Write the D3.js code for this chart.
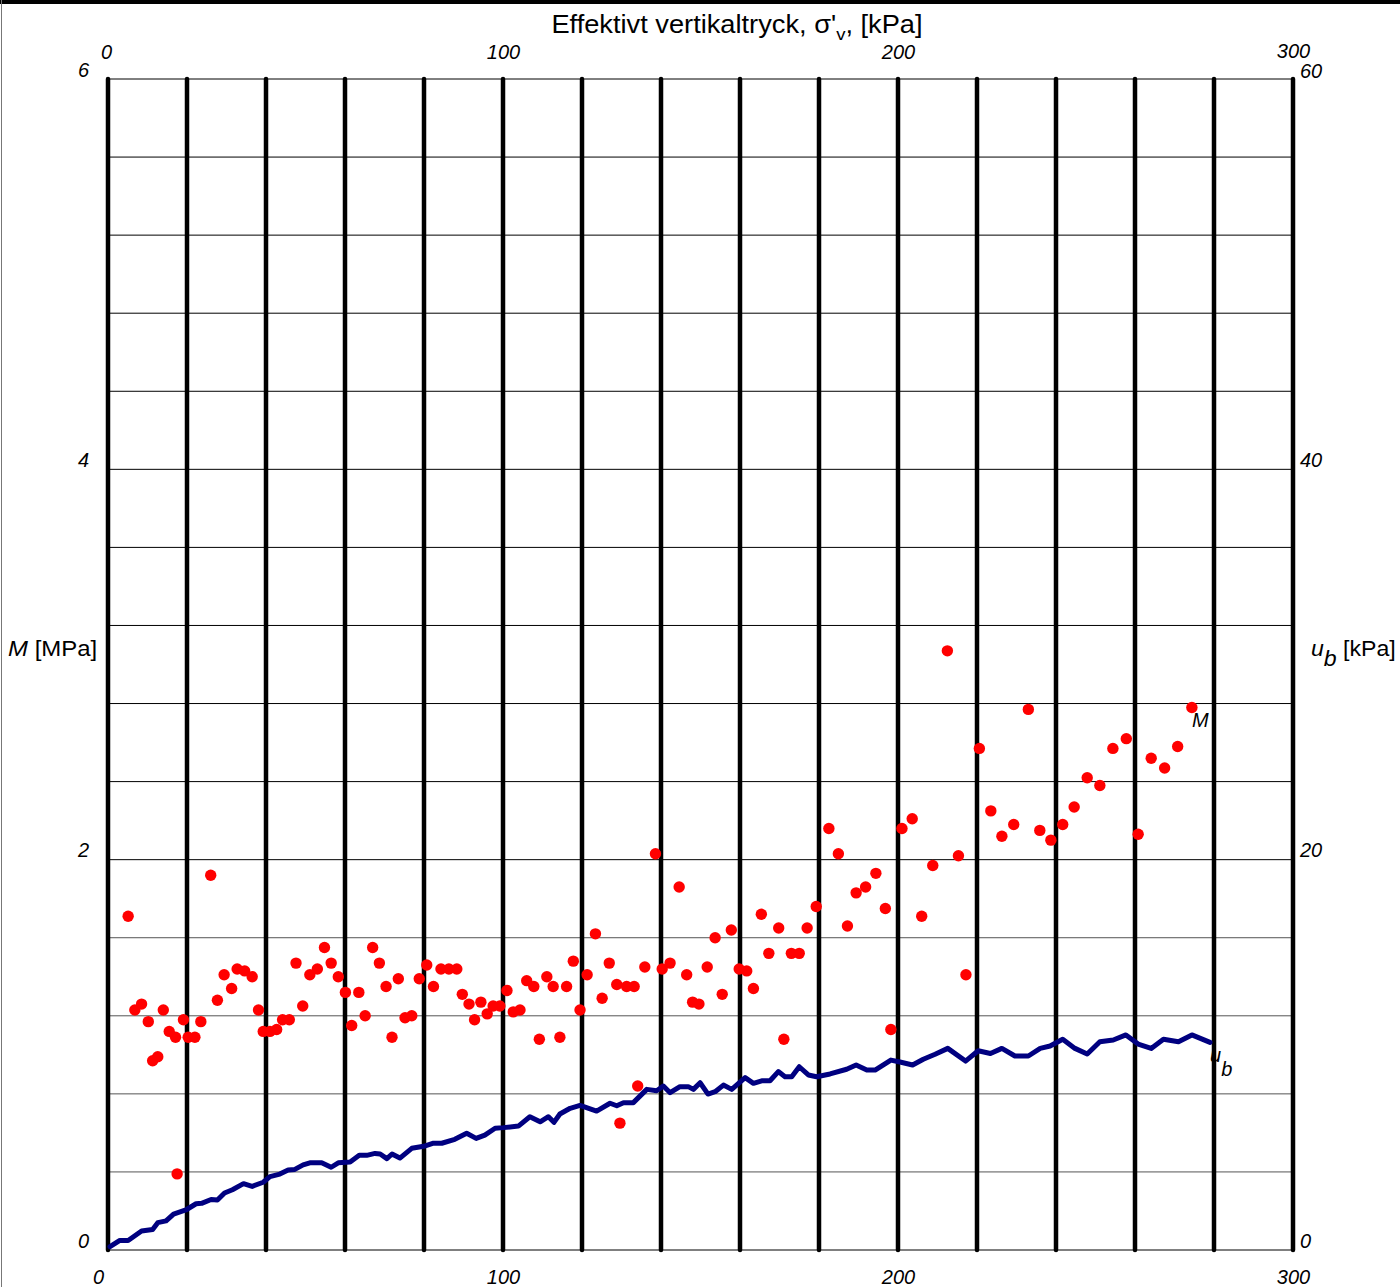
<!DOCTYPE html>
<html>
<head>
<meta charset="utf-8">
<script src="https://cdn.jsdelivr.net/npm/d3@7"></script>
<style>
  html, body { margin: 0; padding: 0; background: #fff; }
  svg { display: block; }
  text { font-family: "Liberation Sans", Arial, sans-serif; fill: #000; }
</style>
</head>
<body>
<svg id="chart" width="1400" height="1287"></svg>
<script>
// ---- data ----
// M (MPa) versus effective vertical stress (kPa), red dots
const mSigma = [5.1,6.8,8.5,10.2,11.3,12.6,14.0,15.5,17.1,17.5,19.1,20.3,22.0,23.5,26.0,27.7,29.4,31.3,32.7,34.6,36.5,38.1,39.3,41.0,42.7,44.2,45.9,47.6,49.3,51.1,53.0,54.8,56.5,58.3,60.1,61.7,63.5,65.1,67.0,68.7,70.4,71.9,73.5,75.2,76.9,78.8,80.7,82.4,84.3,86.3,88.3,89.7,91.4,92.8,94.4,96.0,97.5,99.2,101.0,102.6,104.3,106.0,107.8,109.2,111.1,112.7,114.4,116.1,117.8,119.5,121.3,123.4,125.1,126.9,128.8,129.6,131.3,133.2,134.1,135.9,138.6,140.3,142.3,144.6,146.5,148.0,149.6,151.7,153.7,155.5,157.8,159.8,161.7,163.4,165.4,167.3,169.8,171.1,173.0,175.0,177.0,179.3,182.5,184.9,187.2,189.4,191.8,194.4,196.8,198.2,201.0,203.6,206.0,208.8,212.5,215.3,217.2,220.6,223.5,226.3,229.3,233.0,235.9,238.7,241.7,244.6,247.9,251.1,254.4,257.8,260.8,264.1,267.5,270.8,274.4];
const mValues = [1.71,1.23,1.26,1.17,0.97,0.99,1.23,1.12,1.09,0.39,1.18,1.09,1.09,1.17,1.92,1.28,1.41,1.34,1.44,1.43,1.40,1.23,1.12,1.12,1.13,1.18,1.18,1.47,1.25,1.41,1.44,1.55,1.47,1.40,1.32,1.15,1.32,1.20,1.55,1.47,1.35,1.09,1.39,1.19,1.20,1.39,1.46,1.35,1.44,1.44,1.44,1.31,1.26,1.18,1.27,1.21,1.25,1.25,1.33,1.22,1.23,1.38,1.35,1.08,1.40,1.35,1.09,1.35,1.48,1.23,1.41,1.62,1.29,1.47,1.36,0.65,1.35,1.35,0.84,1.45,2.03,1.44,1.47,1.86,1.41,1.27,1.26,1.45,1.60,1.31,1.64,1.44,1.43,1.34,1.72,1.52,1.65,1.08,1.52,1.52,1.65,1.76,2.16,2.03,1.66,1.83,1.86,1.93,1.75,1.13,2.16,2.21,1.71,1.97,3.07,2.02,1.41,2.57,2.25,2.12,2.18,2.77,2.15,2.10,2.18,2.27,2.42,2.38,2.57,2.62,2.13,2.52,2.47,2.58,2.78];
// u_b (kPa) versus effective vertical stress (kPa), blue line
const ubSigma = [0.5,3.0,5.1,8.5,11.3,12.6,14.7,16.6,19.7,22.3,23.7,26.1,27.7,29.5,31.5,34.3,36.5,39.3,41.0,43.5,45.6,47.3,49.4,51.1,54.1,56.5,58.3,61.3,63.6,65.5,67.6,68.9,70.6,71.9,73.9,76.9,80.3,82.4,84.5,87.8,90.8,93.2,95.4,98.0,100.1,103.9,106.8,109.4,111.5,112.9,114.4,117.0,119.5,123.7,127.1,128.8,130.5,133.0,136.4,138.9,140.6,142.3,144.8,146.9,148.2,149.9,151.9,153.7,155.8,157.9,161.3,163.4,165.5,167.6,169.7,171.4,173.1,175.0,177.3,179.4,182.8,187.0,189.4,192.1,194.2,198.2,200.5,203.7,206.4,209.4,212.6,217.1,220.3,223.4,226.3,229.6,233.0,236.0,238.5,241.7,244.8,247.9,251.1,254.5,257.7,260.8,264.1,267.2,271.0,274.4,279.0];
const ubValues = [0.17,0.49,0.49,0.97,1.05,1.40,1.49,1.84,2.05,2.37,2.39,2.59,2.56,2.92,3.09,3.40,3.26,3.47,3.76,3.89,4.10,4.13,4.36,4.47,4.47,4.24,4.47,4.51,4.85,4.85,4.95,4.92,4.68,4.92,4.71,5.21,5.33,5.47,5.47,5.67,5.98,5.72,5.89,6.24,6.27,6.35,6.83,6.57,6.83,6.54,6.97,7.26,7.41,7.12,7.52,7.39,7.55,7.55,8.23,8.16,8.40,8.06,8.37,8.37,8.23,8.57,7.99,8.11,8.45,8.23,8.83,8.54,8.67,8.67,9.14,8.88,8.88,9.39,8.97,8.88,9.02,9.26,9.48,9.22,9.22,9.73,9.63,9.48,9.77,10.03,10.33,9.68,10.21,10.07,10.33,9.94,9.94,10.33,10.45,10.80,10.33,10.04,10.67,10.76,11.02,10.55,10.33,10.80,10.67,11.02,10.64];

// tick labels
const xTickValues = [0, 100, 200, 300];
const xTickLabels = ["0", "100", "200", "300"];
const mTickValues = [0, 2, 4, 6];
const mTickLabels = ["0", "2", "4", "6"];
const ubTickValues = [0, 20, 40, 60];
const ubTickLabels = ["0", "20", "40", "60"];
const xGridStep = 20;
const yGridStep = 0.4;

// ---- drawing ----
const svg = d3.select("#chart");
const x = d3.scaleLinear().domain([0, 300]).range([108, 1293]);
const y = d3.scaleLinear().domain([0, 6]).range([1250, 79]);
const yR = d3.scaleLinear().domain([0, 60]).range([1250, 79]);

// frame
svg.append("rect").attr("x", 0).attr("y", 0).attr("width", 1400).attr("height", 4).attr("fill", "#000");
svg.append("line").attr("x1", 1.5).attr("x2", 1.5).attr("y1", 0).attr("y2", 1287).attr("stroke", "#777").attr("stroke-width", 1);

// horizontal grid
const yGrid = d3.range(0, 6 + 1e-9, yGridStep);
svg.append("g").selectAll("line").data(yGrid).join("line")
  .attr("x1", x(0)).attr("x2", x(300))
  .attr("y1", d => y(d)).attr("y2", d => y(d))
  .attr("stroke", (d, i) => (i === 0 || i === yGrid.length - 1 || d >= 2) ? "#000" : "#555")
  .attr("stroke-width", 1);

// vertical thick lines
const xGrid = d3.range(0, 300 + 1e-9, xGridStep);
svg.append("g").selectAll("line").data(xGrid).join("line")
  .attr("x1", d => x(d)).attr("x2", d => x(d))
  .attr("y1", y(0)).attr("y2", y(6))
  .attr("stroke", "#000").attr("stroke-width", 4.5).attr("stroke-linecap", "round");

// axes labels via d3 axes
function styleAxis(g) {
  g.select(".domain").remove();
  g.selectAll(".tick line").remove();
  g.selectAll("text").attr("font-family", "Liberation Sans, Arial, sans-serif")
    .attr("font-size", 20).attr("font-style", "italic").attr("fill", "#000");
}
const fmt = (vals, labels) => d => labels[vals.indexOf(d)];

svg.append("g").attr("transform", "translate(0,59)")
  .call(d3.axisTop(x).tickValues(xTickValues).tickFormat(fmt(xTickValues, xTickLabels)).tickSize(0).tickPadding(0))
  .call(styleAxis)
  .call(g => g.selectAll("text").attr("dx", d => d === 0 ? -2 : 0).attr("y", d => d === 300 ? -1 : 0));
svg.append("g").attr("transform", "translate(0,1284)")
  .call(d3.axisTop(x).tickValues(xTickValues).tickFormat(fmt(xTickValues, xTickLabels)).tickSize(0).tickPadding(0))
  .call(styleAxis)
  .call(g => g.selectAll("text").attr("dx", d => d === 0 ? -10 : 0));
svg.append("g").attr("transform", "translate(89,0)")
  .call(d3.axisLeft(y).tickValues(mTickValues).tickFormat(fmt(mTickValues, mTickLabels)).tickSize(0).tickPadding(0))
  .call(styleAxis)
  .call(g => g.selectAll("text").attr("dy", "0").attr("y", -3));
svg.append("g").attr("transform", "translate(1300,0)")
  .call(d3.axisRight(yR).tickValues(ubTickValues).tickFormat(fmt(ubTickValues, ubTickLabels)).tickSize(0).tickPadding(0))
  .call(styleAxis)
  .call(g => g.selectAll("text").attr("dy", "0").attr("y", d => d === 60 ? -2 : -3));

// title (horizontally stretched like the original)
const title = svg.append("text").attr("text-anchor", "middle").attr("font-size", 25)
  .attr("transform", "translate(737,33) scale(1.09,1)");
title.append("tspan").text("Effektivt vertikaltryck, σ'");
title.append("tspan").attr("font-size", 17).attr("dy", 7).text("v");
title.append("tspan").attr("dy", -7).text(", [kPa]");

// y titles
const lt = svg.append("text").attr("font-size", 22).attr("transform", "translate(8,656) scale(1.09,1)");
lt.append("tspan").attr("font-style", "italic").text("M");
lt.append("tspan").text(" [MPa]");

const rt = svg.append("text").attr("font-size", 22).attr("transform", "translate(1311,656) scale(1.05,1)");
rt.append("tspan").attr("font-style", "italic").text("u");
rt.append("tspan").attr("font-style", "italic").attr("dy", 10).text("b");
rt.append("tspan").attr("dy", -10).text(" [kPa]");

// u_b line
const line = d3.line().x((d, i) => x(ubSigma[i])).y((d, i) => yR(ubValues[i]));
svg.append("path").datum(ubValues).attr("d", line)
  .attr("fill", "none").attr("stroke", "#000080").attr("stroke-width", 5)
  .attr("stroke-linejoin", "round").attr("stroke-linecap", "round");

// M dots
svg.append("g").selectAll("circle").data(mValues).join("circle")
  .attr("cx", (d, i) => x(mSigma[i])).attr("cy", d => y(d)).attr("r", 5.7)
  .attr("fill", "#ff0000");

// series labels
svg.append("text").attr("x", 1192).attr("y", 727).attr("font-size", 20).attr("font-style", "italic").text("M");
const ub = svg.append("text").attr("x", 1210).attr("y", 1062).attr("font-size", 20).attr("font-style", "italic");
ub.append("tspan").text("u");
ub.append("tspan").attr("dy", 14).text("b");
</script>
</body>
</html>
